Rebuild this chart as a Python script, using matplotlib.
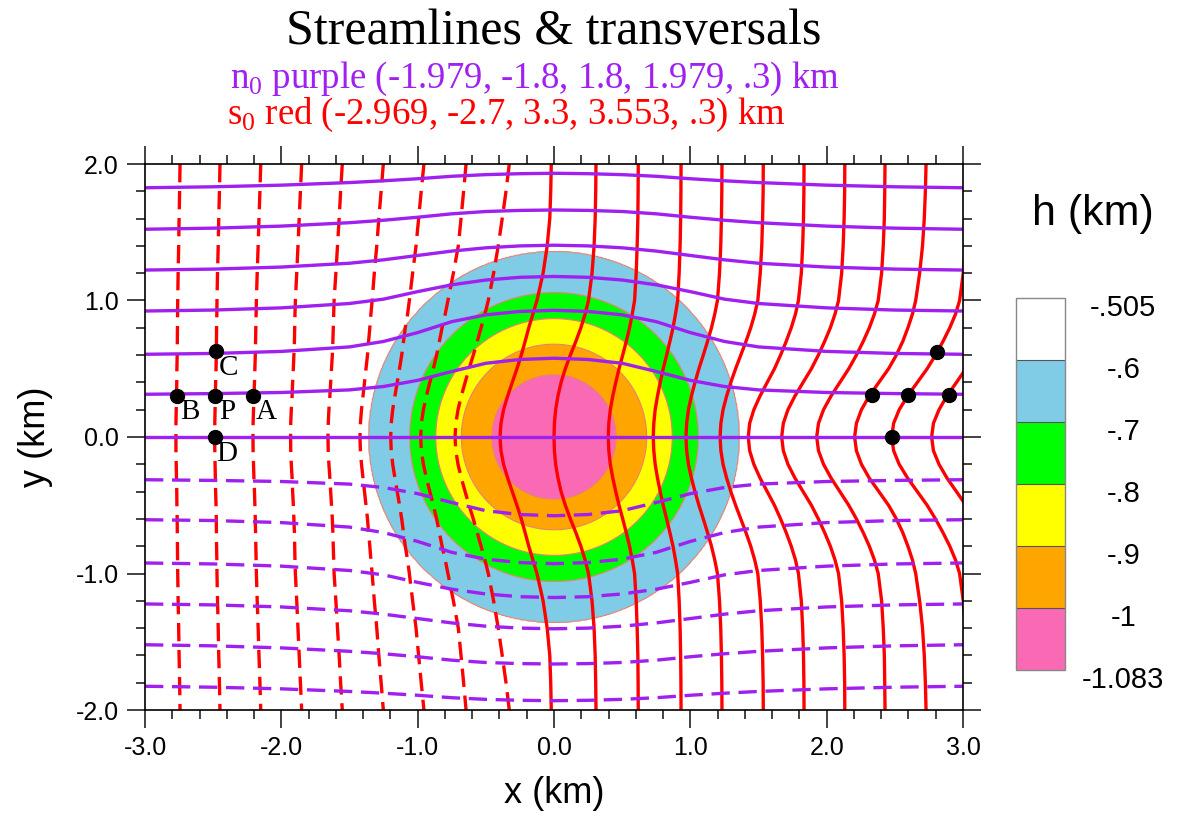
import numpy as np
import matplotlib
matplotlib.use("Agg")
import matplotlib.pyplot as plt
from matplotlib.transforms import ScaledTranslation

plt.rcParams['font.family'] = ['Liberation Sans', 'DejaVu Sans']
plt.rcParams['mathtext.fontset'] = 'custom'
plt.rcParams['mathtext.rm'] = 'Liberation Serif'

# radial depth profile (km)
prof_r = [0.0, 0.457, 0.68, 0.867, 1.058, 1.357, 3.61]
prof_h = [-1.083, -1.0, -0.9, -0.8, -0.7, -0.6, -0.505]
h_levels = [-1.083, -1.0, -0.9, -0.8, -0.7, -0.6, -0.505]
h_colors = ['#fa69b4', '#ffa500', '#ffff00', '#00ff00', '#80cbe6', '#ffffff']
h_labels = ['-1.083', '-1', '-.9', '-.8', '-.7', '-.6', '-.505']

# streamlines n0 (purple): y values at purple_x, left half (mirror for x>0)
n0 = [-1.8, -1.5, -1.2, -0.9, -0.6, -0.3, 0.0, 0.3, 0.6, 0.9, 1.2, 1.5, 1.8]
purple_x = [-3.0, -2.5, -2.0, -1.5, -1.25, -1.0, -0.75, -0.5, -0.25, 0.0]
purple_y = {
    0.0: [0, 0, 0, 0, 0, 0, 0, 0, 0, 0],
    0.3: [0.313, 0.318, 0.326, 0.345, 0.37, 0.415, 0.48, 0.54, 0.568, 0.577],
    0.6: [0.606, 0.612, 0.627, 0.66, 0.70, 0.765, 0.845, 0.895, 0.92, 0.928],
    0.9: [0.923, 0.93, 0.946, 0.978, 1.01, 1.065, 1.115, 1.15, 1.17, 1.176],
    1.2: [1.223, 1.23, 1.245, 1.273, 1.298, 1.33, 1.362, 1.386, 1.4, 1.405],
    1.5: [1.522, 1.53, 1.545, 1.57, 1.588, 1.61, 1.635, 1.652, 1.66, 1.663],
    1.8: [1.826, 1.833, 1.845, 1.864, 1.877, 1.892, 1.91, 1.922, 1.929, 1.932],
}

# transversals s0 (red): x values at red_y, upper half (mirror for y<0)
s0 = [-2.7, -2.4, -2.1, -1.8, -1.5, -1.2, -0.9, -0.6, -0.3, 0.0, 0.3,
      0.6, 0.9, 1.2, 1.5, 1.8, 2.1, 2.4, 2.7, 3.0, 3.3]
red_y = [2.0, 1.8, 1.6, 1.4, 1.2, 1.0, 0.9, 0.8, 0.7, 0.6, 0.5, 0.4, 0.3, 0.2, 0.1, 0.0]
red_x = [
    [-2.743, -2.746, -2.750, -2.753, -2.757, -2.760, -2.761, -2.762, -2.763, -2.764, -2.766, -2.767, -2.769, -2.771, -2.773, -2.773],
    [-2.450, -2.454, -2.459, -2.463, -2.468, -2.472, -2.473, -2.475, -2.476, -2.477, -2.479, -2.482, -2.484, -2.486, -2.488, -2.489],
    [-2.151, -2.157, -2.164, -2.170, -2.177, -2.183, -2.185, -2.187, -2.189, -2.191, -2.194, -2.197, -2.201, -2.204, -2.207, -2.208],
    [-1.851, -1.860, -1.869, -1.878, -1.887, -1.897, -1.900, -1.902, -1.904, -1.908, -1.912, -1.917, -1.921, -1.927, -1.931, -1.932],
    [-1.553, -1.565, -1.576, -1.588, -1.600, -1.613, -1.616, -1.619, -1.622, -1.626, -1.632, -1.638, -1.644, -1.651, -1.656, -1.658],
    [-1.252, -1.268, -1.285, -1.300, -1.318, -1.334, -1.343, -1.351, -1.360, -1.368, -1.379, -1.390, -1.401, -1.412, -1.420, -1.423],
    [-0.954, -0.974, -0.993, -1.012, -1.037, -1.061, -1.074, -1.091, -1.104, -1.117, -1.133, -1.150, -1.167, -1.183, -1.194, -1.198],
    [-0.645, -0.663, -0.682, -0.702, -0.738, -0.778, -0.798, -0.821, -0.841, -0.861, -0.885, -0.911, -0.936, -0.958, -0.973, -0.978],
    [-0.328, -0.352, -0.380, -0.409, -0.443, -0.482, -0.507, -0.535, -0.563, -0.592, -0.623, -0.652, -0.680, -0.704, -0.720, -0.726],
    [-0.020, -0.024, -0.031, -0.050, -0.080, -0.125, -0.155, -0.185, -0.212, -0.240, -0.272, -0.306, -0.340, -0.370, -0.389, -0.396],
    [0.308, 0.306, 0.302, 0.294, 0.279, 0.253, 0.228, 0.197, 0.160, 0.120, 0.083, 0.052, 0.029, 0.012, 0.003, 0.000],
    [0.618, 0.617, 0.615, 0.610, 0.603, 0.591, 0.574, 0.554, 0.530, 0.504, 0.477, 0.453, 0.431, 0.413, 0.402, 0.398],
    [0.932, 0.931, 0.929, 0.925, 0.918, 0.907, 0.891, 0.873, 0.850, 0.826, 0.801, 0.779, 0.759, 0.742, 0.732, 0.728],
    [1.232, 1.231, 1.228, 1.223, 1.214, 1.199, 1.179, 1.155, 1.126, 1.095, 1.063, 1.034, 1.008, 0.986, 0.973, 0.968],
    [1.535, 1.534, 1.530, 1.524, 1.513, 1.495, 1.472, 1.443, 1.408, 1.370, 1.332, 1.297, 1.266, 1.240, 1.224, 1.218],
    [1.834, 1.833, 1.830, 1.824, 1.814, 1.793, 1.771, 1.740, 1.703, 1.662, 1.617, 1.564, 1.511, 1.466, 1.435, 1.425],
    [2.133, 2.132, 2.128, 2.121, 2.110, 2.087, 2.061, 2.027, 1.985, 1.939, 1.888, 1.827, 1.767, 1.716, 1.682, 1.670],
    [2.428, 2.426, 2.423, 2.415, 2.403, 2.378, 2.350, 2.313, 2.268, 2.218, 2.162, 2.097, 2.032, 1.977, 1.940, 1.927],
    [2.729, 2.724, 2.716, 2.703, 2.682, 2.653, 2.629, 2.596, 2.558, 2.511, 2.454, 2.383, 2.312, 2.255, 2.218, 2.205],
    [3.030, 3.028, 3.024, 3.016, 3.002, 2.975, 2.945, 2.903, 2.853, 2.798, 2.737, 2.665, 2.593, 2.532, 2.491, 2.477],
    [3.305, 3.303, 3.300, 3.292, 3.278, 3.252, 3.222, 3.182, 3.134, 3.080, 3.021, 2.952, 2.882, 2.824, 2.783, 2.770],
]

# marked points
pt_x = [-2.763, -2.489, -2.205, -2.477, -2.489, 2.330, 2.600, 2.897, 2.807, 2.477]
pt_y = [0.303, 0.303, 0.303, 0.628, 0.0, 0.308, 0.310, 0.310, 0.620, 0.0]
pt_lab = ['B', 'P', 'A', 'C', 'D', '', '', '', '', '']

PURPLE = '#a020f0'
RED = '#ff0000'

fig = plt.figure(figsize=(11.78, 8.17), dpi=100)
ax = fig.add_axes([145 / 1178, 1 - 710 / 817, 818 / 1178, 546 / 817])

gx = np.linspace(-3, 3, 721)
gy = np.linspace(-2, 2, 481)
X, Y = np.meshgrid(gx, gy)
H = np.interp(np.hypot(X, Y), prof_r, prof_h)
cf = ax.contourf(X, Y, H, levels=h_levels, colors=h_colors, antialiased=True)
ax.contour(X, Y, H, levels=h_levels[1:-1], colors='#e5826f', linewidths=0.8,
           linestyles='solid')

for s, xs in zip(s0, red_x):
    yy = red_y + [-v for v in red_y[::-1][1:]]
    xx = xs + xs[::-1][1:]
    ls = (0, (5.5, 2.6)) if s < 0 else '-'
    ax.plot(xx, yy, color=RED, lw=2.4, ls=ls)

for n in n0:
    ys = purple_y[abs(n)]
    sign = -1 if n < 0 else 1
    xx = purple_x + [-v for v in purple_x[::-1][1:]]
    yy = [sign * v for v in ys + ys[::-1][1:]]
    ls = (0, (5.5, 2.6)) if n < 0 else '-'
    ax.plot(xx, yy, color=PURPLE, lw=2.4, ls=ls)

ax.plot(pt_x, pt_y, 'o', color='black', ms=10, zorder=5)
for x, y, t in zip(pt_x, pt_y, pt_lab):
    if t:
        ax.annotate(t, (x, y), xytext=(9, -12), textcoords='offset points',
                    ha='center', va='center', fontsize=21,
                    family='Liberation Serif', zorder=6)

ax.set_xlim(-3, 3)
ax.set_ylim(-2, 2)
ax.set_xticks(np.arange(-3, 3.01, 1.0))
ax.set_yticks(np.arange(-2, 2.01, 1.0))
ax.set_xticks(np.arange(-3, 3.01, 0.2), minor=True)
ax.set_yticks(np.arange(-2, 2.01, 0.2), minor=True)
ax.set_xticklabels(['%.1f' % v for v in np.arange(-3, 3.01, 1.0)])
ax.set_yticklabels(['%.1f' % v for v in np.arange(-2, 2.01, 1.0)])
ax.tick_params(which='both', direction='out', top=True, right=True,
               width=1.2, color='#222222', labelsize=18)
ax.tick_params(which='major', length=13, pad=6)
ax.tick_params(which='minor', length=6.5)
for sp in ax.spines.values():
    sp.set_linewidth(1.2)
ax.set_xlabel('x (km)', fontsize=26, labelpad=11)
ax.set_ylabel('y (km)', fontsize=26, labelpad=16)

fig.text(554 / 1178, 1 - 44 / 817, 'Streamlines & transversals', ha='center',
         va='baseline', fontsize=36, family='Liberation Serif')
fig.text(535 / 1178, 1 - 88 / 817,
         r'n$_{\mathrm{0}}$ purple (-1.979, -1.8, 1.8, 1.979, .3) km',
         ha='center', va='baseline', fontsize=26.5, color=PURPLE,
         family='Liberation Serif')
fig.text(506 / 1178, 1 - 124 / 817,
         r's$_{\mathrm{0}}$ red (-2.969, -2.7, 3.3, 3.553, .3) km',
         ha='center', va='baseline', fontsize=26.5, color=RED,
         family='Liberation Serif')

cax = fig.add_axes([1016 / 1178, 1 - 670 / 817, 49 / 1178, 372 / 817])
cb = fig.colorbar(cf, cax=cax, ticks=h_levels, drawedges=True)
cb.ax.set_yticklabels(h_labels)
cb.outline.set_edgecolor('#888888')
cb.outline.set_linewidth(1.0)
cb.dividers.set_color('#555555')
cb.dividers.set_linewidth(0.8)
cb.ax.tick_params(length=0, labelsize=21, pad=42)
for lab in cb.ax.get_yticklabels():
    lab.set_ha('center')
    lab.set_transform(lab.get_transform() +
                      ScaledTranslation(0, -7 / 100, fig.dpi_scale_trans))
fig.text(1093 / 1178, 1 - 225 / 817, 'h (km)', ha='center', va='baseline',
         fontsize=31)

fig.savefig('out.png', dpi=100)
